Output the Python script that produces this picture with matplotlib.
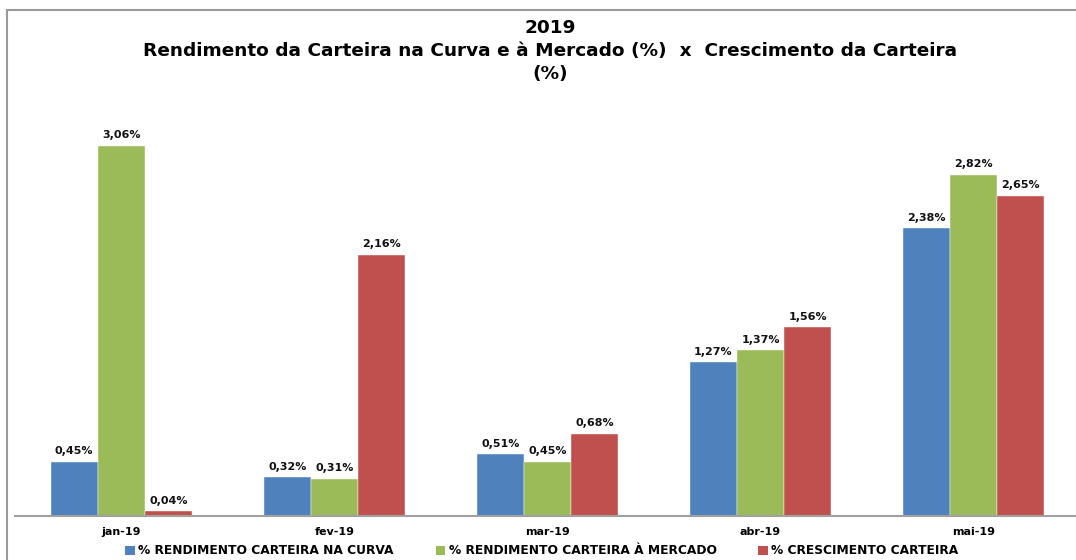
import numpy as np
import matplotlib
matplotlib.use("Agg")
import matplotlib.pyplot as plt
from matplotlib.patches import Rectangle, Patch

meses = ["jan-19", "fev-19", "mar-19", "abr-19", "mai-19"]
rend_curva = [0.45, 0.32, 0.51, 1.27, 2.38]
rend_mercado = [3.06, 0.31, 0.45, 1.37, 2.82]
cresc_carteira = [0.04, 2.16, 0.68, 1.56, 2.65]

series = [
    ("% RENDIMENTO CARTEIRA NA CURVA", rend_curva, "#4F81BD"),
    ("% RENDIMENTO CARTEIRA À MERCADO", rend_mercado, "#9BBB59"),
    ("% CRESCIMENTO CARTEIRA", cresc_carteira, "#C0504D"),
]

W, H = 1076, 560
fig = plt.figure(figsize=(W / 100, H / 100), dpi=100)

# moldura cinza do grafico (lado direito/inferior fora da imagem)
fig.patches.append(Rectangle((7 / W, -0.1), 1.2, 1 - 10 / H + 0.1,
                             transform=fig.transFigure, fill=False,
                             edgecolor="#9a9a9a", linewidth=1.5))

ymax = 3.5
px_per_unit = 370 / 3.06
ax_h = ymax * px_per_unit
ax = fig.add_axes([15 / W, 44 / H, 1065 / W, ax_h / H])

x = np.arange(len(meses))
width = 0.222
for i, (nome, vals, cor) in enumerate(series):
    bars = ax.bar(x + (i - 1) * width, vals, width, color=cor,
                  edgecolor="white", linewidth=0.3, label=nome)
    ax.bar_label(bars, labels=[f"{v:.2f}%".replace(".", ",") for v in vals],
                 padding=4, fontsize=8, fontweight="bold", color="#111111")

ax.set_xlim(-0.5, len(meses) - 0.5)
ax.set_ylim(0, ymax)
ax.set_yticks([])
ax.set_xticks(x)
ax.set_xticklabels(meses, fontsize=8, fontweight="bold")
ax.tick_params(axis="x", length=0, pad=8)
for s in ["top", "right", "left"]:
    ax.spines[s].set_visible(False)
ax.spines["bottom"].set_color("#a0a0a0")
ax.spines["bottom"].set_linewidth(1.5)
ax.set_facecolor("none")

fig.text(550 / W, 1 - 19 / H, "2019\nRendimento da Carteira na Curva e à Mercado (%)  x  Crescimento da Carteira\n(%)",
         ha="center", va="top", fontsize=13.3, fontweight="bold",
         linespacing=1.34, color="black")

handles = [Patch(facecolor=c, label=n) for n, _, c in series]
fig.legend(handles=handles, loc="center", bbox_to_anchor=(542 / W, 1 - 551 / H),
           ncol=3, frameon=False,
           prop={"weight": "bold", "size": 8.85},
           handlelength=0.75, handleheight=0.75, handletextpad=0.3,
           columnspacing=3.4, borderpad=0)

fig.savefig("out.png", dpi=100)
